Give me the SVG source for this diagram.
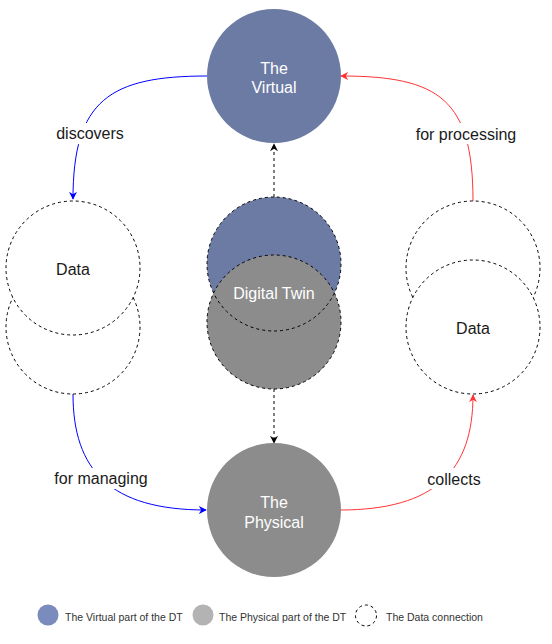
<svg xmlns="http://www.w3.org/2000/svg" width="552" height="644" viewBox="0 0 552 644">
<style>
text{font-family:"Liberation Sans",Arial,sans-serif;font-size:16px;text-anchor:middle;dominant-baseline:central}
.w{fill:#ffffff}
.k{fill:#1a1a1a}
.dash{fill:none;stroke:#000;stroke-width:1;stroke-dasharray:3 3}
.wfill{fill:#ffffff;stroke:#000;stroke-width:1;stroke-dasharray:3 3}
.blue{fill:none;stroke:#0000ff;stroke-width:1}
.red{fill:none;stroke:#ff3333;stroke-width:1}
.blk{fill:none;stroke:#000;stroke-width:1;stroke-dasharray:3 3}
.lbl{fill:#ffffff}
.leg{font-size:10.5px;text-anchor:start;fill:#333}
</style>
<defs>
<marker id="ab" viewBox="0 0 10 10" refX="9" refY="5" markerWidth="8" markerHeight="8" orient="auto" markerUnits="userSpaceOnUse"><path d="M0,0 L10,5 L0,10 L3,5 z" fill="#0000ff"/></marker>
<marker id="ar" viewBox="0 0 10 10" refX="9" refY="5" markerWidth="8" markerHeight="8" orient="auto" markerUnits="userSpaceOnUse"><path d="M0,0 L10,5 L0,10 L3,5 z" fill="#ff3333"/></marker>
<marker id="ak" viewBox="0 0 10 10" refX="9" refY="5" markerWidth="8" markerHeight="8" orient="auto" markerUnits="userSpaceOnUse"><path d="M0,0 L10,5 L0,10 L3,5 z" fill="#000"/></marker>
</defs>
<g id="connectors">
<path class="blue" d="M207,76 C110,76 73,100 73,199" marker-end="url(#ab)"/>
<path class="blue" d="M73,394 C73,470 110,510 206,510" marker-end="url(#ab)"/>
<path class="red" d="M340,510 C436,510 473,470 473,395" marker-end="url(#ar)"/>
<path class="red" d="M473,201 C473,100 440,76 341,76" marker-end="url(#ar)"/>
<path class="blk" d="M274,197 L274,144" marker-end="url(#ak)"/>
<path class="blk" d="M274,389 L274,443" marker-end="url(#ak)"/>
<rect class="lbl" x="54" y="123" width="72" height="21"/>
<text class="k" x="90" y="133">discovers</text>
<rect class="lbl" x="414" y="123" width="104" height="21"/>
<text class="k" x="466" y="134">for processing</text>
<rect class="lbl" x="52" y="468" width="98" height="21"/>
<text class="k" x="101" y="478">for managing</text>
<rect class="lbl" x="425" y="468" width="58" height="21"/>
<text class="k" x="454" y="479">collects</text>
</g>
<g id="virtual">
<circle cx="274" cy="76" r="67" fill="#6b7ba4"/>
<text class="w" x="274" y="68">The</text>
<text class="w" x="274" y="87">Virtual</text>
</g>
<g id="physical">
<circle cx="274" cy="510" r="67" fill="#8c8c8c"/>
<text class="w" x="274" y="502">The</text>
<text class="w" x="274" y="522">Physical</text>
</g>
<g id="digital-twin">
<circle cx="274" cy="264" r="67" fill="#6b7ba4"/>
<circle cx="274" cy="322" r="67" fill="#8c8c8c" class="dash" style="fill:#8c8c8c"/>
<circle cx="274" cy="264" r="67" class="dash"/>
<text class="w" x="274" y="293">Digital Twin</text>
</g>
<g id="data-left">
<circle cx="73" cy="327" r="67" class="wfill"/>
<circle cx="73" cy="268" r="67" class="wfill"/>
<text class="k" x="73" y="269">Data</text>
</g>
<g id="data-right">
<circle cx="473" cy="268" r="67" class="wfill"/>
<circle cx="473" cy="327" r="67" class="wfill"/>
<text class="k" x="473" y="328">Data</text>
</g>
<g id="legend">
<circle cx="48" cy="615" r="10.5" fill="#7a8bbd"/>
<text class="leg" x="65" y="617">The Virtual part of the DT</text>
<circle cx="203" cy="615" r="10.5" fill="#b3b3b3"/>
<text class="leg" x="219" y="617">The Physical part of the DT</text>
<circle cx="366" cy="615.5" r="10.5" class="dash"/>
<text class="leg" x="386" y="617">The Data connection</text>
</g>
</svg>
